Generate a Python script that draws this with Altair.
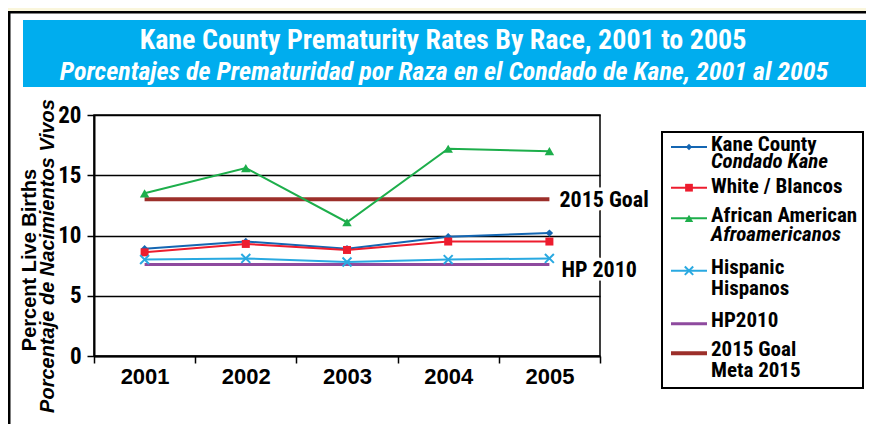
import altair as alt
import pandas as pd

# ---------------- data ----------------
years = ["2001", "2002", "2003", "2004", "2005"]
kane_county = [8.9, 9.5, 8.9, 9.9, 10.2]
white = [8.6, 9.3, 8.8, 9.5, 9.5]
african_american = [13.5, 15.6, 11.1, 17.2, 17.0]
hispanic = [8.0, 8.1, 7.8, 8.0, 8.1]
hp2010 = [7.6, 7.6, 7.6, 7.6, 7.6]
goal2015 = [13.0, 13.0, 13.0, 13.0, 13.0]
y_ticks = [0, 5, 10, 15, 20]

series_names = ["Kane County", "White / Blancos", "African American",
                "Hispanic", "HP2010", "2015 Goal"]
series_values = [kane_county, white, african_american, hispanic, hp2010, goal2015]
series_colors = ["#1466B2", "#ED1C2E", "#1DAE4B", "#29A9E1", "#8E4A9E", "#9C2F2A"]
series_widths = [2, 2, 2, 2, 3, 4]

legend_lines = [
    [("Kane County", False), ("Condado Kane", True)],
    [("White / Blancos", False)],
    [("African American", False), ("Afroamericanos", True)],
    [("Hispanic", False), ("Hispanos", False)],
    [("HP2010", False)],
    [("2015 Goal", False), ("Meta 2015", False)],
]

title_en = "Kane County Prematurity Rates By Race, 2001 to 2005"
title_es = "Porcentajes de Prematuridad por Raza en el Condado de Kane, 2001 al 2005"
ytitle_en = "Percent Live Births"
ytitle_es = "Porcentaje de Nacimientos Vivos"

# ---------------- tables ----------------
rows = []
for name, vals in zip(series_names, series_values):
    for yr, v in zip(years, vals):
        rows.append({"year": yr, "value": v, "series": name})
df = pd.DataFrame(rows)
one = pd.DataFrame({"k": [0]})

COND = "'Roboto Condensed', 'DejaVu Sans Condensed', 'Liberation Sans Narrow', sans-serif"
SANS = "'Liberation Sans', Arial, sans-serif"

W, H = 506, 241
PAD_L, PAD_T = 86, 107
TOTAL_W, TOTAL_H = 858, 416

x_enc = alt.X("year:N", sort=years,
              scale=alt.Scale(type="band", domain=years, paddingInner=0, paddingOuter=0),
              axis=alt.Axis(title=None, labelAngle=0, tickBand="extent", tickSize=7,
                            tickWidth=1.5, tickColor="black", domainColor="black",
                            domainWidth=2, labelFont=SANS, labelFontSize=22,
                            labelFontWeight="bold", labelColor="black", labelPadding=3,
                            grid=False))
y_enc = alt.Y("value:Q",
              scale=alt.Scale(domain=[0, 20], nice=False, zero=True),
              axis=alt.Axis(title=None, values=y_ticks, grid=True, gridColor="black",
                            gridWidth=1.5, gridOpacity=1, tickSize=7, tickWidth=1.5,
                            tickColor="black", domainColor="black", domainWidth=2,
                            labelFont=COND, labelFontSize=23, labelFontWeight="bold",
                            labelColor="black", labelPadding=6))

base = alt.Chart(df)

line_layers = []
for name, col, sw in zip(series_names, series_colors, series_widths):
    line_layers.append(
        base.transform_filter(alt.FieldEqualPredicate(field="series", equal=name))
        .mark_line(color=col, strokeWidth=sw)
        .encode(x=x_enc, y=y_enc)
    )
# draw reference lines first
line_layers = line_layers[4:] + line_layers[:4]

XPATH = "M-1,-1L1,1M-1,1L1,-1"
marker_specs = [
    ("Kane County", "diamond", 55, True),
    ("White / Blancos", "square", 64, True),
    ("African American", "triangle-up", 90, True),
    ("Hispanic", XPATH, 80, False),
]
point_layers = []
for name, shp, sz, filled in marker_specs:
    col = series_colors[series_names.index(name)]
    point_layers.append(
        base.transform_filter(alt.FieldEqualPredicate(field="series", equal=name))
        .mark_point(shape=shp, size=sz, filled=filled, color=col, opacity=1, strokeWidth=2)
        .encode(x=x_enc, y=y_enc)
    )

# annotations at line ends
ann_layers = []
for lab, v, dy, dx in [("2015 Goal", goal2015[-1], 8, 10), ("HP 2010", hp2010[-1], 13, 12)]:
    d = pd.DataFrame({"year": [years[-1]], "value": [v], "label": [lab]})
    for halo in (True, False):
        kw = dict(align="left", baseline="alphabetic", dx=dx, dy=dy, font=COND,
                  fontSize=22, fontWeight="bold", color="black")
        if halo:
            kw.update(stroke="white", strokeWidth=7)
        ann_layers.append(alt.Chart(d).mark_text(**kw).encode(
            x=x_enc, y=y_enc, text="label:N"))

# ---------------- decoration (frame, banner, titles) ----------------
def vrect(x, x2, y, y2, **kw):
    return alt.Chart(one).mark_rect(**kw).encode(
        x=alt.value(x), x2=alt.value(x2), y=alt.value(y), y2=alt.value(y2))

def vtext(txt, x, y, **kw):
    return alt.Chart(one).mark_text(text=txt, **kw).encode(
        x=alt.value(x), y=alt.value(y))

deco = [
    vrect(-PAD_L, TOTAL_W, -PAD_T, -PAD_T + 3, color="#FAF6DC"),
    vrect(-PAD_L, TOTAL_W, -PAD_T + 3, -PAD_T + 5.5, color="black"),
    vrect(-PAD_L, -PAD_L + 2.5, -PAD_T + 3, TOTAL_H, color="black"),
    vrect(-71, TOTAL_W - PAD_L, -95, -28, color="#00ADEE"),
    vtext(title_en, 349, -66.5, font=COND, fontSize=28, fontWeight="bold",
          color="white", align="center", baseline="alphabetic"),
    vtext(title_es, 350, -35, font=COND, fontSize=26, fontWeight="bold",
          fontStyle="italic", color="white", align="center", baseline="alphabetic"),
    vtext(ytitle_en, -64, 145, font=SANS, fontSize=20, fontWeight="bold",
          color="black", align="center", baseline="middle", angle=270),
    vtext(ytitle_es, -46, 141, font=SANS, fontSize=20, fontWeight="bold",
          fontStyle="italic", color="black", align="center", baseline="middle", angle=270),
]

# ---------------- manual legend ----------------
LX0, LX1, LY0, LY1 = 568, 769, 17, 273
sym_y = [32, 72.7, 103.3, 155.7, 208.7, 238.3]
text_y = [[35.7, 53.3], [78.3], [107.3, 126], [159, 180], [211.7], [241, 261.7]]
legend_layers = [vrect(LX0, LX1, LY0, LY1, fill="white", stroke="black", strokeWidth=2)]
sym_shapes = ["diamond", "square", "triangle-up", XPATH, None, None]
sym_sizes = [40, 60, 70, 70, 0, 0]
for i, name in enumerate(series_names):
    sy = sym_y[i]
    legend_layers.append(
        alt.Chart(one).mark_rule(color=series_colors[i], strokeWidth=series_widths[i]).encode(
            x=alt.value(577), x2=alt.value(613), y=alt.value(sy)))
    if sym_shapes[i] is not None:
        filled = sym_shapes[i] != XPATH
        legend_layers.append(
            alt.Chart(one).mark_point(shape=sym_shapes[i], size=sym_sizes[i], filled=filled,
                                      opacity=1, color=series_colors[i], strokeWidth=2).encode(
                x=alt.value(595), y=alt.value(sy)))
    for (txt, ital), ty in zip(legend_lines[i], text_y[i]):
        kw = dict(font=COND, fontSize=21, fontWeight="bold", color="black",
                  align="left", baseline="alphabetic")
        if ital:
            kw["fontStyle"] = "italic"
        legend_layers.append(vtext(txt, 617, ty, **kw))

chart = alt.layer(
    *deco, *line_layers, *point_layers, *ann_layers, *legend_layers
).properties(
    width=W, height=H,
    padding={"left": PAD_L, "top": PAD_T,
             "right": TOTAL_W - PAD_L - W, "bottom": TOTAL_H - PAD_T - H},
    autosize=alt.AutoSizeParams(type="none"),
    background="white",
).configure_view(stroke="black", strokeWidth=1.5)

chart.save("out.html", embed_options={"renderer": "svg", "actions": False})
